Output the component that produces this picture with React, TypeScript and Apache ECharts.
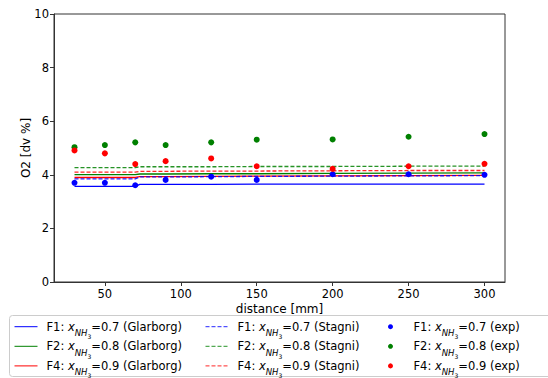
import React, { useEffect, useRef } from "react";
import * as echarts from "echarts";

// measured O2 concentrations along the reactor
const expX = [30, 50, 70, 90, 120, 150, 200, 250, 300];
const expF1 = [3.7, 3.7, 3.61, 3.81, 3.93, 3.81, 4.02, 4.02, 4.0];
const expF2 = [5.03, 5.11, 5.21, 5.11, 5.21, 5.31, 5.32, 5.42, 5.52];
const expF4 = [4.91, 4.8, 4.4, 4.51, 4.61, 4.32, 4.22, 4.32, 4.41];

// model predictions
const modelX = [30, 50, 70, 73, 90, 120, 150, 200, 250, 300];
const glarF1 = [3.57, 3.57, 3.57, 3.64, 3.64, 3.64, 3.65, 3.65, 3.65, 3.65];
const glarF2 = [4.01, 4.01, 4.01, 4.03, 4.03, 4.04, 4.04, 4.05, 4.06, 4.07];
const glarF4 = [3.9, 3.9, 3.9, 3.93, 3.93, 3.94, 3.95, 3.96, 3.97, 3.98];
const stagF1 = [3.85, 3.85, 3.85, 3.92, 3.92, 3.93, 3.94, 3.95, 3.96, 3.97];
const stagF2 = [4.27, 4.27, 4.27, 4.3, 4.3, 4.3, 4.31, 4.31, 4.32, 4.32];
const stagF4 = [4.1, 4.1, 4.1, 4.13, 4.13, 4.14, 4.14, 4.15, 4.16, 4.16];

const xTicks = [50, 100, 150, 200, 250, 300];
const yTicks = [0, 2, 4, 6, 8, 10];

const BLUE = "#0000ff";
const GREEN = "#008000";
const RED = "#ff0000";
const FONT = "DejaVu Sans";

const cases = [
  { key: "F1", x: "0.7", color: BLUE },
  { key: "F2", x: "0.8", color: GREEN },
  { key: "F4", x: "0.9", color: RED },
];

const pair = (xs: number[], ys: number[]) => xs.map((x, i) => [x, ys[i]]);

const label = (key: string, x: string, model: string) =>
  `{a|${key}: }{x|x}{s|NH}{t|3}{a|=${x} (${model})}`;

const rich = {
  a: { fontFamily: FONT, fontSize: 11.5, color: "#000", lineHeight: 14, verticalAlign: "middle" },
  x: { fontFamily: FONT, fontSize: 11.5, color: "#000", fontStyle: "italic", lineHeight: 14, verticalAlign: "middle" },
  s: { fontFamily: FONT, fontSize: 8.5, color: "#000", fontStyle: "italic", lineHeight: 14, verticalAlign: "bottom", padding: [0, 0, -4, 0] },
  t: { fontFamily: FONT, fontSize: 6, color: "#000", lineHeight: 14, verticalAlign: "bottom", padding: [0, 0, -6, 0] },
};

export default function App() {
  const ref = useRef<HTMLDivElement>(null);

  useEffect(() => {
    if (!ref.current) return;
    const chart = echarts.init(ref.current, null, { renderer: "svg" });

    const glar = [glarF1, glarF2, glarF4];
    const stag = [stagF1, stagF2, stagF4];
    const exp = [expF1, expF2, expF4];
    const names: Record<string, string> = {};
    const series: any[] = [];

    cases.forEach((c, i) => {
      const n = `${c.key} Glarborg`;
      names[n] = label(c.key, c.x, "Glarborg");
      series.push({
        type: "line",
        name: n,
        data: pair(modelX, glar[i]),
        symbol: "none",
        lineStyle: { color: c.color, width: 1.3 },
        itemStyle: { color: c.color },
        z: 2,
      });
    });
    cases.forEach((c, i) => {
      const n = `${c.key} Stagni`;
      names[n] = label(c.key, c.x, "Stagni");
      series.push({
        type: "line",
        name: n,
        data: pair(modelX, stag[i]),
        symbol: "none",
        lineStyle: { color: c.color, width: 1.3, type: [4, 2], opacity: 0.85 },
        itemStyle: { color: c.color },
        z: 2,
      });
    });
    cases.forEach((c, i) => {
      const n = `${c.key} exp`;
      names[n] = label(c.key, c.x, "exp");
      series.push({
        type: "scatter",
        name: n,
        data: pair(expX, exp[i]),
        symbol: "circle",
        symbolSize: 6,
        itemStyle: { color: c.color, opacity: 1 },
        z: 3,
      });
    });

    const legendBase = {
      orient: "vertical",
      top: 320.7,
      height: 80,
      padding: 0,
      itemGap: 0.6,
      itemHeight: 10,
      selectedMode: false,
      formatter: (name: string) => names[name],
      textStyle: { rich, padding: [0, 0, 0, 4] },
    };

    chart.setOption({
      animation: false,
      grid: {
        left: 54,
        right: 43,
        top: 14,
        bottom: 96,
        show: true,
        borderColor: "#333",
        borderWidth: 1,
      },
      xAxis: {
        type: "value",
        min: 16.5,
        max: 313.5,
        name: "distance [mm]",
        nameLocation: "middle",
        nameGap: 21,
        nameMoveOverlap: false,
        nameTextStyle: { fontFamily: FONT, fontSize: 12, color: "#000" },
        axisLine: { show: true, lineStyle: { color: "#333" } },
        axisTick: { show: true, length: 4, lineStyle: { color: "#333" }, customValues: xTicks },
        axisLabel: { fontFamily: FONT, fontSize: 11.5, color: "#000", margin: 6, customValues: xTicks },
        splitLine: { show: false },
      },
      yAxis: {
        type: "value",
        min: 0,
        max: 10,
        interval: 2,
        name: "O2 [dv %]",
        nameLocation: "middle",
        nameGap: 22,
        nameMoveOverlap: false,
        nameTextStyle: { fontFamily: FONT, fontSize: 12, color: "#000" },
        axisLine: { show: true, lineStyle: { color: "#333" } },
        axisTick: { show: true, length: 4, lineStyle: { color: "#333" }, customValues: yTicks },
        axisLabel: { fontFamily: FONT, fontSize: 11.5, color: "#000", margin: 5, customValues: yTicks },
        splitLine: { show: false },
      },
      legend: [
        { ...legendBase, left: 14, itemWidth: 23, itemStyle: { opacity: 0 }, lineStyle: { width: 1 }, data: ["F1 Glarborg", "F2 Glarborg", "F4 Glarborg"] },
        { ...legendBase, left: 205, itemWidth: 23, itemStyle: { opacity: 0 }, lineStyle: { width: 1 }, data: ["F1 Stagni", "F2 Stagni", "F4 Stagni"] },
        { ...legendBase, left: 388, itemWidth: 28, itemHeight: 5, data: ["F1 exp", "F2 exp", "F4 exp"] },
      ],
      graphic: [
        {
          type: "rect",
          shape: { x: 9.5, y: 315.5, width: 560, height: 61, r: 3 },
          style: { fill: "#fff", stroke: "#cccccc", lineWidth: 1 },
          z: -1,
          silent: true,
        },
      ],
      series,
    });

    return () => chart.dispose();
  }, []);

  return <div ref={ref} style={{ width: 548, height: 378, position: "absolute", left: 0, top: 0 }} />;
}
